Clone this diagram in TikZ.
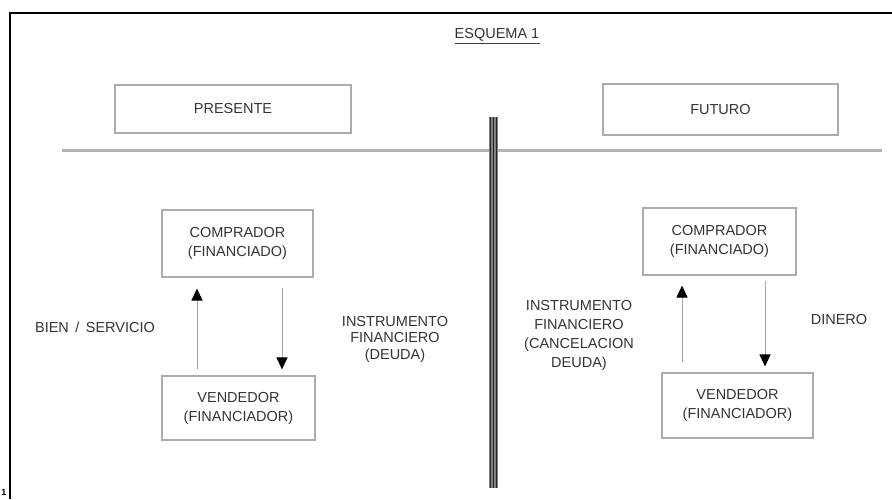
\documentclass[tikz,border=0pt]{standalone}
\usepackage{fontspec}
\setmainfont{Liberation Sans}
\usetikzlibrary{arrows.meta}
\begin{document}
\begin{tikzpicture}[x=1pt,y=-1pt,
  txt/.style={text=black!80, font=\fontsize{14.5}{19}\selectfont, align=center, inner sep=0pt},
  boxed/.style={draw=gray!65, line width=1.1pt, inner sep=0pt},
  arr/.style={draw=gray!70, line width=1pt, -{Triangle[width=11pt,length=12pt,fill=black,color=black]}},
  frameline/.style={draw=black, line width=1.8pt}
]
\useasboundingbox (0,0) rectangle (892,499);
% frame
\coordinate (ftl) at (10,13);
\coordinate (ftr) at (892,13);
\coordinate (fbl) at (10,499);
\draw[frameline] (ftr) -- (ftl) -- (fbl);
\node[font=\fontsize{9}{9}\selectfont\bfseries, inner sep=0pt] (one) at (4,492) {1};
% title
\node[txt] (title) at (497,35) {ESQUEMA 1};
\draw[black!75, line width=0.8pt] ([yshift=-2pt]title.south west) -- ([yshift=-2pt]title.south east);
% top boxes
\node[boxed, minimum width=236pt, minimum height=48pt] (pres) at (233,109) {};
\node[txt] at (pres.center) {PRESENTE};
\node[boxed, minimum width=235pt, minimum height=51pt] (fut) at (720.5,109.5) {};
\node[txt] at (fut.center) {FUTURO};
% horizontal line
\coordinate (hl) at (62,150);
\coordinate (hr) at (882,150);
\draw[gray!60, line width=3pt] (hl) -- (hr);
% vertical bar
\coordinate (vt) at (493.5,117);
\coordinate (vb) at (493.5,488);
\draw[black!50, line width=9pt] (vt) -- (vb);
\draw[black!85, line width=1pt] ([xshift=-3pt]vt) -- ([xshift=-3pt]vb);
\draw[black!85, line width=1pt] (vt) -- (vb);
\draw[black!85, line width=1pt] ([xshift=3pt]vt) -- ([xshift=3pt]vb);
% left boxes
\node[boxed, minimum width=151pt, minimum height=67pt] (cl) at (237.5,243.5) {};
\node[txt] at (cl.center) {COMPRADOR\\(FINANCIADO)};
\node[boxed, minimum width=153pt, minimum height=64pt] (vl) at (238.5,408) {};
\node[txt] at (vl.center) {VENDEDOR\\(FINANCIADOR)};
% right boxes
\node[boxed, minimum width=153pt, minimum height=67pt] (cr) at (719.5,241.5) {};
\node[txt] at (cr.center) {COMPRADOR\\(FINANCIADO)};
\node[boxed, minimum width=151pt, minimum height=65pt] (vr) at (737.5,405.5) {};
\node[txt] at (vr.center) {VENDEDOR\\(FINANCIADOR)};
% arrows left
\coordinate (ula) at (197,0);
\coordinate (dla) at (282,0);
\draw[arr, shorten <=6pt, shorten >=11pt] (vl.north -| ula) -- (cl.south -| ula);
\draw[arr, shorten <=10pt, shorten >=6pt] (cl.south -| dla) -- (vl.north -| dla);
% arrows right
\coordinate (ura) at (682,0);
\coordinate (dra) at (765,0);
\draw[arr, shorten <=10pt, shorten >=10pt] (vr.north -| ura) -- (cr.south -| ura);
\draw[arr, shorten <=5pt, shorten >=6pt] (cr.south -| dra) -- (vr.north -| dra);
% labels
\node[txt] (bien) at (95,327) {BIEN \,/\, SERVICIO};
\node[txt, font=\fontsize{14.5}{16.5}\selectfont] (instl) at (395,339) {INSTRUMENTO\\FINANCIERO\\(DEUDA)};
\node[txt, font=\fontsize{14.5}{19}\selectfont] (instr) at (579,335) {INSTRUMENTO\\FINANCIERO\\(CANCELACION\\DEUDA)};
\node[txt] (din) at (839,320) {DINERO};
\end{tikzpicture}
\end{document}
